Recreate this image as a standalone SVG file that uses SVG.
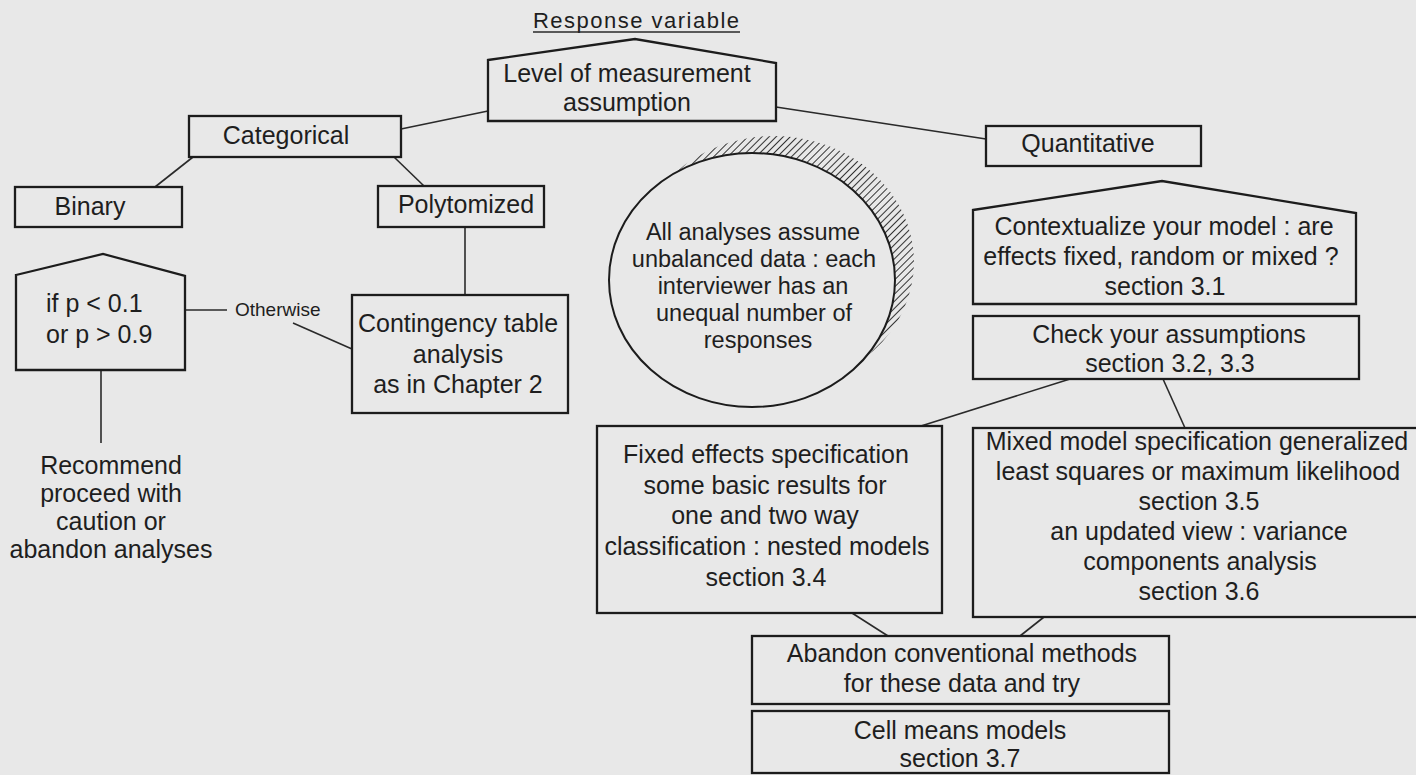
<svg xmlns="http://www.w3.org/2000/svg" width="1416" height="775" viewBox="0 0 1416 775">
  <defs>
    <style>
      .box { fill: none; stroke: #1c1c1c; stroke-width: 2.3; }
      .edge { fill: none; stroke: #2a2a2a; stroke-width: 1.6; }
      text { font-family: "Liberation Sans", Arial, Helvetica, sans-serif; font-size: 25px; fill: #1e1e1e; }
      .c { text-anchor: middle; }
      .small { font-size: 19px; }
      .title { font-size: 22px; }
      .oval { font-size: 23.5px; }
    </style>
    <!-- diagonal hatching used on the shaded rim of the oval -->
    <pattern id="hatch" patternUnits="userSpaceOnUse" width="5" height="5" patternTransform="rotate(45)">
      <line x1="0" y1="-1" x2="0" y2="6" stroke="#1e1e1e" stroke-width="1.8"/>
    </pattern>
  </defs>

  <rect width="1416" height="775" fill="#e8e8e8"/>

  <!-- connectors -->
  <g id="connectors">
    <line class="edge" x1="488" y1="111" x2="401" y2="129"/>
    <line class="edge" x1="776" y1="107" x2="986" y2="139"/>
    <line class="edge" x1="193" y1="157" x2="155" y2="187"/>
    <line class="edge" x1="394" y1="157" x2="424" y2="186"/>
    <line class="edge" x1="465" y1="227" x2="465" y2="295"/>
    <line class="edge" x1="185" y1="310" x2="227" y2="310"/>
    <line class="edge" x1="293" y1="323" x2="352" y2="349"/>
    <line class="edge" x1="101" y1="370" x2="101" y2="443"/>
    <line class="edge" x1="1070" y1="379" x2="921" y2="426"/>
    <line class="edge" x1="1163" y1="379" x2="1185" y2="428"/>
    <line class="edge" x1="852" y1="613" x2="888" y2="636"/>
    <line class="edge" x1="1044" y1="617" x2="1020" y2="636"/>
  </g>

  <!-- heading -->
  <g id="heading">
    <text class="title" x="533" y="28" textLength="206" lengthAdjust="spacing">Response variable</text>
    <line x1="533" y1="32" x2="740" y2="32" stroke="#2a2a2a" stroke-width="1.4"/>
  </g>

  <g id="level">
    <polygon class="box" points="488,60 635,39 776,63 776,121 488,121"/>
    <text class="c" x="627" y="82">Level of measurement</text>
    <text class="c" x="627" y="111">assumption</text>
  </g>

  <g id="categorical">
    <rect class="box" x="189" y="116" width="212" height="41"/>
    <text class="c" x="286" y="144">Categorical</text>
  </g>

  <g id="binary">
    <rect class="box" x="15" y="187" width="167" height="40"/>
    <text class="c" x="90" y="215">Binary</text>
  </g>

  <g id="polytomized">
    <rect class="box" x="378" y="186" width="166" height="41"/>
    <text class="c" x="466" y="213">Polytomized</text>
  </g>

  <g id="threshold">
    <polygon class="box" points="16,275 103,254 185,276 185,370 16,370"/>
    <text x="46" y="312">if p &lt; 0.1</text>
    <text x="46" y="343">or p &gt; 0.9</text>
  </g>

  <g id="otherwise">
    <text class="small" x="235" y="316">Otherwise</text>
  </g>

  <g id="contingency">
    <rect class="box" x="352" y="295" width="216" height="118"/>
    <text class="c" x="458" y="332">Contingency table</text>
    <text class="c" x="458" y="363">analysis</text>
    <text class="c" x="458" y="393">as in Chapter 2</text>
  </g>

  <g id="recommend">
    <text class="c" x="111" y="474">Recommend</text>
    <text class="c" x="111" y="502">proceed with</text>
    <text class="c" x="111" y="530">caution or</text>
    <text class="c" x="111" y="558">abandon analyses</text>
  </g>

  <g id="assumption-note">
    <ellipse cx="774" cy="262" rx="140" ry="126" fill="url(#hatch)"/>
    <ellipse cx="752" cy="280" rx="143" ry="127" fill="#e8e8e8" stroke="#1c1c1c" stroke-width="2"/>
    <text class="c oval" x="753" y="240">All analyses assume</text>
    <text class="c oval" x="754" y="267">unbalanced data : each</text>
    <text class="c oval" x="753" y="294">interviewer has an</text>
    <text class="c oval" x="754" y="321">unequal number of</text>
    <text class="c oval" x="758" y="348">responses</text>
  </g>

  <g id="quantitative">
    <rect class="box" x="986" y="126" width="215" height="40"/>
    <text class="c" x="1088" y="152">Quantitative</text>
  </g>

  <g id="contextualize">
    <polygon class="box" points="973,210 1162,181 1356,213 1356,304 973,304"/>
    <text class="c" x="1164" y="235">Contextualize your model : are</text>
    <text class="c" x="1161" y="265">effects fixed, random or mixed ?</text>
    <text class="c" x="1165" y="295">section 3.1</text>
  </g>

  <g id="check">
    <rect class="box" x="973" y="316" width="386" height="63"/>
    <text class="c" x="1169" y="343">Check your assumptions</text>
    <text class="c" x="1170" y="372">section 3.2, 3.3</text>
  </g>

  <g id="fixed">
    <rect class="box" x="597" y="426" width="345" height="187"/>
    <text class="c" x="766" y="463">Fixed effects specification</text>
    <text class="c" x="765" y="494">some basic results for</text>
    <text class="c" x="765" y="524">one and two way</text>
    <text class="c" x="767" y="555">classification : nested models</text>
    <text class="c" x="766" y="586">section 3.4</text>
  </g>

  <g id="mixed">
    <rect class="box" x="973" y="428" width="460" height="189"/>
    <text class="c" x="1197" y="450">Mixed model specification generalized</text>
    <text class="c" x="1198" y="480">least squares or maximum likelihood</text>
    <text class="c" x="1199" y="510">section 3.5</text>
    <text class="c" x="1199" y="540">an updated view : variance</text>
    <text class="c" x="1200" y="570">components analysis</text>
    <text class="c" x="1199" y="600">section 3.6</text>
  </g>

  <g id="abandon">
    <rect class="box" x="752" y="636" width="417" height="68"/>
    <text class="c" x="962" y="662">Abandon conventional methods</text>
    <text class="c" x="962" y="692">for these data and try</text>
  </g>

  <g id="cell-means">
    <rect class="box" x="752" y="711" width="417" height="62"/>
    <text class="c" x="960" y="739">Cell means models</text>
    <text class="c" x="960" y="767">section 3.7</text>
  </g>
</svg>
